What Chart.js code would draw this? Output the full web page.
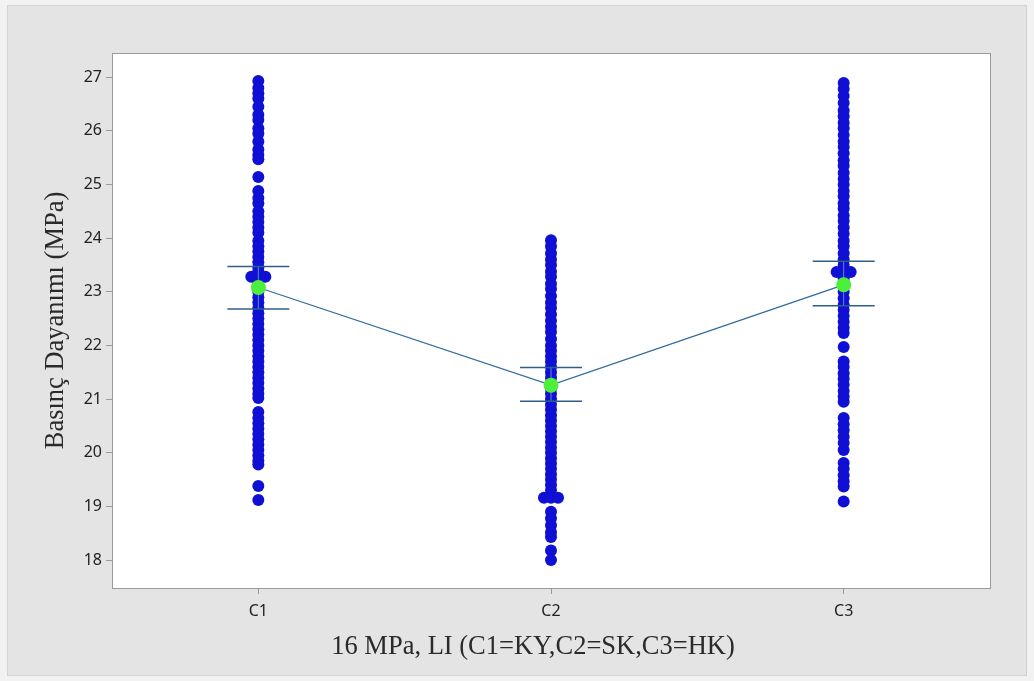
<!DOCTYPE html>
<html>
<head>
<meta charset="utf-8">
<script src="https://cdn.jsdelivr.net/npm/chart.js@4"></script>
<style>
  html, body { margin: 0; padding: 0; background: #f0f0f0; }
  #wrap { position: absolute; left: 0; top: 0; width: 1034px; height: 681px; }
</style>
</head>
<body>
<div id="wrap"><canvas id="chart" width="1034" height="681"></canvas></div>
<script>
const categories = ["C1", "C2", "C3"];
const yTicks = [18, 19, 20, 21, 22, 23, 24, 25, 26, 27];
const xTitle = "16 MPa, LI (C1=KY,C2=SK,C3=HK)";
const yTitle = "Basınç Dayanımı (MPa)";

// individual values (repeated values are ties)
const valuesC1 = [
  26.93, 26.8, 26.7, 26.6, 26.45, 26.3, 26.2, 26.05, 25.95, 25.8, 25.65, 25.55, 25.47,
  25.14,
  24.88, 24.75, 24.65, 24.5, 24.4, 24.3, 24.2, 24.1, 23.95, 23.85, 23.75, 23.65, 23.55, 23.45, 23.38,
  23.28, 23.28, 23.28,
  23.18, 23.0, 22.9, 22.8, 22.7, 22.6, 22.5, 22.4, 22.3, 22.2, 22.1, 22.0, 21.9, 21.8, 21.7,
  21.6, 21.5, 21.4, 21.3, 21.2, 21.1, 21.02,
  20.76, 20.65, 20.55, 20.45, 20.35, 20.25, 20.15, 20.05, 19.95, 19.85, 19.78,
  19.38, 19.12
];
const valuesC2 = [
  23.96, 23.85, 23.72, 23.6, 23.5, 23.38, 23.28, 23.15, 23.05, 22.92, 22.8, 22.7, 22.58,
  22.46, 22.35, 22.25, 22.12, 22.0, 21.9, 21.8, 21.7, 21.6, 21.5, 21.4, 21.3, 21.2,
  21.1, 21.0, 20.9, 20.8, 20.7, 20.6, 20.5, 20.4, 20.3, 20.2, 20.1, 20.0, 19.9, 19.8,
  19.7, 19.6, 19.5, 19.4, 19.3,
  19.16, 19.16, 19.16,
  18.9, 18.78, 18.65, 18.52, 18.43, 18.18, 18.0
];
const valuesC3 = [
  26.89, 26.78, 26.65, 26.52, 26.38, 26.27, 26.15, 26.05, 25.92, 25.8, 25.7, 25.58,
  25.45, 25.35, 25.22, 25.1, 25.0, 24.88, 24.78, 24.65, 24.55, 24.42, 24.32, 24.2,
  24.08, 23.95, 23.85, 23.72, 23.6, 23.5,
  23.37, 23.37, 23.37,
  23.25, 23.13, 23.0, 22.88, 22.76, 22.66, 22.55, 22.44, 22.33, 22.23,
  21.97,
  21.7, 21.6, 21.48, 21.38, 21.27, 21.15, 21.05, 20.95,
  20.65, 20.53, 20.42, 20.3, 20.18, 20.05,
  19.81, 19.7, 19.58, 19.47, 19.37,
  19.09
];
const groupValues = [valuesC1, valuesC2, valuesC3];

// means and 95% CI for the mean
const means = [23.08, 21.26, 23.13];
const ciLow = [22.68, 20.96, 22.74];
const ciHigh = [23.47, 21.59, 23.57];

// build scatter points; ties are spread sideways like Minitab does
function buildPoints() {
  const pts = [];
  groupValues.forEach((vals, g) => {
    const counts = {};
    vals.forEach((v) => { counts[v] = (counts[v] || 0) + 1; });
    const seen = {};
    vals.forEach((v) => {
      const n = counts[v];
      const k = seen[v] || 0;
      seen[v] = k + 1;
      pts.push({ x: g + 1 + (k - (n - 1) / 2) * 0.024, y: v });
    });
  });
  return pts;
}

const titleFamily = "'Liberation Serif', 'DejaVu Serif', serif";

const bgPlugin = {
  id: "bg",
  beforeDraw(chart) {
    const { ctx, chartArea: a } = chart;
    ctx.save();
    ctx.fillStyle = "#f2f2f2";
    ctx.fillRect(0, 0, chart.width, chart.height);
    ctx.fillStyle = "#e4e4e4";
    ctx.fillRect(7, 5, 1020, 671);
    ctx.strokeStyle = "#d2d2d2";
    ctx.strokeRect(7.5, 5.5, 1019, 670);
    ctx.fillStyle = "#ffffff";
    ctx.fillRect(a.left, a.top, a.right - a.left, a.bottom - a.top);
    ctx.restore();
  },
  afterDatasetDraw(chart, args) {
    if (args.index !== 0) return;
    const { ctx, scales: { x, y } } = chart;
    ctx.save();
    categories.forEach((c, i) => {
      const px = x.getPixelForValue(i + 1);
      const lo = y.getPixelForValue(ciLow[i]);
      const hi = y.getPixelForValue(ciHigh[i]);
      ctx.lineWidth = 1;
      ctx.strokeStyle = "#5b8fc0";
      ctx.beginPath();
      ctx.moveTo(px, hi); ctx.lineTo(px, lo);
      ctx.stroke();
      ctx.lineWidth = 1.5;
      ctx.strokeStyle = "#2c5f8c";
      ctx.beginPath();
      ctx.moveTo(px - 31, hi); ctx.lineTo(px + 31, hi);
      ctx.moveTo(px - 31, lo); ctx.lineTo(px + 31, lo);
      ctx.stroke();
    });
    ctx.restore();
  },
  afterDraw(chart) {
    const { ctx, chartArea: a } = chart;
    ctx.save();
    ctx.strokeStyle = "#9a9a9a";
    ctx.lineWidth = 1;
    ctx.strokeRect(Math.round(a.left) + 0.5, Math.round(a.top) + 0.5,
      Math.round(a.right - a.left), Math.round(a.bottom - a.top));
    // x title sits a bit left of the plot centre in the original
    ctx.fillStyle = "#2a2a2a";
    ctx.font = "26.5px " + titleFamily;
    ctx.textAlign = "center";
    ctx.textBaseline = "alphabetic";
    ctx.fillText(xTitle, 533, 654);
    ctx.restore();
  }
};

const tickFont = { family: "'Noto Sans', 'Open Sans', sans-serif", size: 16 };

new Chart(document.getElementById("chart"), {
  type: "scatter",
  data: {
    datasets: [
      {
        label: "values",
        data: buildPoints(),
        backgroundColor: "#1010d4",
        borderColor: "#1010d4",
        pointRadius: 6,
        pointBorderWidth: 0,
        order: 2,
      },
      {
        label: "mean",
        type: "line",
        data: means.map((m, i) => ({ x: i + 1, y: m })),
        borderColor: "#2e6c9e",
        borderWidth: 1.3,
        backgroundColor: "#4cf03c",
        pointBackgroundColor: "#4cf03c",
        pointBorderColor: "#4cf03c",
        pointRadius: 7.5,
        pointBorderWidth: 0,
        tension: 0,
        order: 1,
      },
    ],
  },
  options: {
    responsive: false,
    animation: false,
    layout: { padding: { top: 53, right: 44, left: 40, bottom: 22 } },
    plugins: { legend: { display: false }, tooltip: { enabled: false } },
    scales: {
      x: {
        type: "linear",
        min: 0.5,
        max: 3.5,
        afterBuildTicks: (s) => { s.ticks = categories.map((c, i) => ({ value: i + 1 })); },
        afterFit: (s) => { s.height = 71; },
        ticks: {
          callback: (v) => categories[v - 1],
          color: "#222222",
          font: tickFont,
          padding: 8,
          maxRotation: 0,
        },
        grid: { drawOnChartArea: false, drawTicks: true, tickLength: 6, color: "#9a9a9a" },
        border: { display: false },
      },
      y: {
        type: "linear",
        min: 17.48,
        max: 27.45,
        afterBuildTicks: (s) => { s.ticks = yTicks.map((v) => ({ value: v })); },
        afterFit: (s) => { s.width = 72; },
        ticks: { color: "#222222", font: tickFont, padding: 4 },
        grid: { drawOnChartArea: false, drawTicks: true, tickLength: 6, color: "#9a9a9a" },
        border: { display: false },
        title: {
          display: true,
          text: yTitle,
          color: "#2a2a2a",
          font: { family: titleFamily, size: 26.5 },
          padding: 0,
        },
      },
    },
  },
  plugins: [bgPlugin],
});
</script>
</body>
</html>
